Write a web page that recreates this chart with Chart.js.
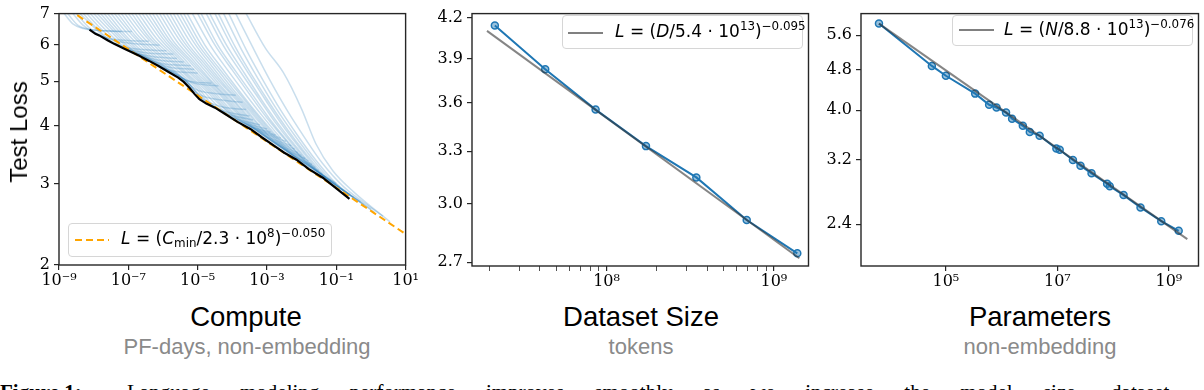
<!DOCTYPE html>
<html>
<head>
<meta charset="utf-8">
<script src="https://cdn.jsdelivr.net/npm/chart.js@4.4.0/dist/chart.umd.min.js"></script>
<style>
  body { margin: 0; width: 1204px; height: 390px; overflow: hidden; background: #fff; position: relative; font-family: 'Liberation Sans', Arial, sans-serif; }
  .panel { position: absolute; top: 0; }
  .ttl { position: absolute; font-size: 27.5px; color: #000; white-space: nowrap; transform: translateX(-50%); }
  .sub { position: absolute; font-size: 22px; color: #8a8a8a; white-space: nowrap; transform: translateX(-50%); }
  .ylab { position: absolute; font-size: 24px; color: #000; white-space: nowrap; transform: translate(-50%, -50%) rotate(-90deg); }
  .leg { position: absolute; box-sizing: border-box; border: 1px solid #d6d6d6; border-radius: 4px; background: rgba(255,255,255,0.85); }
  .leg svg { position: absolute; left: 0; top: 0; }
  .lt { position: absolute; font-family: 'DejaVu Sans', sans-serif; font-size: 17px; color: #000; white-space: nowrap; }
  .lt sup { font-size: 0.7em; vertical-align: 0.55em; line-height: 0; }
  .lt sub { font-size: 0.7em; vertical-align: -0.25em; line-height: 0; }
  .caption { position: absolute; left: 0; top: 380px; font-family: 'Liberation Serif', serif; font-size: 21px; color: #000; white-space: nowrap; }
  .caption span { position: absolute; left: 127px; top: 0; word-spacing: 25px; }
</style>
</head>
<body>

<div class="panel" style="left:0px"><canvas id="computeChart" width="420" height="300"></canvas></div>
<div class="panel" style="left:420px"><canvas id="datasetChart" width="394" height="300"></canvas></div>
<div class="panel" style="left:814px"><canvas id="paramsChart" width="390" height="300"></canvas></div>

<div class="ylab" style="left:19px;top:132px">Test Loss</div>

<div class="ttl" style="left:246px;top:301px">Compute</div>
<div class="sub" style="left:247px;top:334px">PF-days, non-embedding</div>
<div class="ttl" style="left:641px;top:301px">Dataset Size</div>
<div class="sub" style="left:641px;top:334px">tokens</div>
<div class="ttl" style="left:1040px;top:301px">Parameters</div>
<div class="sub" style="left:1040px;top:334px">non-embedding</div>

<div class="leg" style="left:68px;top:223px;width:264px;height:34px">
  <svg width="44" height="34"><line x1="6" y1="16" x2="40" y2="16" stroke="#ffa500" stroke-width="2" stroke-dasharray="7,4"/></svg>
  <span class="lt" style="left:52px;top:4px"><i>L</i> = (<i>C</i><sub>min</sub>/2.3 · 10<sup>8</sup>)<sup>−0.050</sup></span>
</div>
<div class="leg" style="left:562px;top:15px;width:241px;height:34px">
  <svg width="44" height="34"><line x1="5" y1="17" x2="40" y2="17" stroke="#808080" stroke-width="2"/></svg>
  <span class="lt" style="left:52px;top:5px"><i>L</i> = (<i>D</i>/5.4 · 10<sup>13</sup>)<sup>−0.095</sup></span>
</div>
<div class="leg" style="left:952px;top:15px;width:241px;height:31px">
  <svg width="44" height="31"><line x1="6" y1="14" x2="41" y2="14" stroke="#808080" stroke-width="2"/></svg>
  <span class="lt" style="left:51px;top:3px"><i>L</i> = (<i>N</i>/8.8 · 10<sup>13</sup>)<sup>−0.076</sup></span>
</div>

<div class="caption"><b>Figure 1:</b><span>Language modeling performance improves smoothly as we increase the model size, dataset</span></div>

<script>
// 1. Compute panel data (x stored as log10 of PF-days)
const computeTicks = [1e-9, 1e-7, 1e-5, 1e-3, 1e-1, 1e1];
const computeLossTicks = [2, 3, 4, 5, 6, 7];
const trainingRuns = [
  [[-8.85, 7.0], [-8.6, 6.65], [-8.3, 6.5], [-7.9, 6.44], [-7.2, 6.4]],
  [[-8.75, 7.0], [-8.45, 6.6], [-8.1, 6.47], [-7.5, 6.42], [-6.9, 6.4]],
  [[-8.6, 7.0], [-8.3, 6.6], [-8.0, 6.38], [-7.6, 6.2], [-7.0, 6.12], [-6.4, 6.1]],
  [[-8.5, 7.0], [-8.15, 6.55], [-7.85, 6.3], [-7.4, 6.12], [-6.8, 6.02], [-6.1, 5.98]],
  [[-8.4, 7.0], [-8.0, 6.55], [-7.6, 6.15], [-7.2, 5.95], [-6.6, 5.85], [-5.9, 5.82]],
  [[-8.3, 7.0], [-7.9, 6.5], [-7.5, 6.1], [-7.05, 5.88], [-6.5, 5.76], [-5.7, 5.72]],
  [[-8.2, 7.0], [-7.8, 6.5], [-7.3, 6.02], [-6.9, 5.8], [-6.3, 5.65], [-5.6, 5.6]],
  [[-8.1, 7.0], [-7.65, 6.45], [-7.2, 6.0], [-6.75, 5.74], [-6.2, 5.56], [-5.4, 5.5]],
  [[-8.0, 7.0], [-7.5, 6.4], [-7.0, 5.9], [-6.6, 5.66], [-6.0, 5.45], [-5.2, 5.4]],
  [[-7.9, 7.0], [-7.4, 6.38], [-6.9, 5.86], [-6.45, 5.6], [-5.9, 5.38], [-5.1, 5.3]],
  [[-7.8, 7.0], [-7.3, 6.35], [-6.8, 5.85], [-6.3, 5.5], [-5.8, 5.28], [-5.0, 5.2]],
  [[-7.7, 7.0], [-7.2, 6.33], [-6.7, 5.82], [-6.2, 5.46], [-5.7, 5.2], [-5.25, 5.0], [-4.6, 4.95]],
  [[-7.6, 7.0], [-7.1, 6.3], [-6.6, 5.8], [-6.1, 5.42], [-5.6, 5.15], [-5.1, 4.95], [-4.4, 4.88]],
  [[-7.5, 7.0], [-7.0, 6.3], [-6.5, 5.79], [-6.0, 5.39], [-5.5, 5.1], [-5.05, 4.8], [-4.5, 4.7], [-3.9, 4.66]],
  [[-7.4, 7.0], [-6.9, 6.3], [-6.4, 5.78], [-5.9, 5.35], [-5.4, 5.05], [-5.0, 4.7], [-4.3, 4.55], [-3.7, 4.5]],
  [[-7.3, 7.0], [-6.8, 6.27], [-6.3, 5.76], [-5.8, 5.33], [-5.3, 4.98], [-4.9, 4.6], [-4.3, 4.4], [-3.6, 4.34]],
  [[-7.2, 7.0], [-6.7, 6.25], [-6.2, 5.75], [-5.7, 5.3], [-5.2, 4.9], [-4.8, 4.52], [-4.2, 4.3], [-3.5, 4.2]],
  [[-7.1, 7.0], [-6.6, 6.25], [-6.1, 5.73], [-5.6, 5.29], [-5.1, 4.88], [-4.7, 4.5], [-4.1, 4.24], [-3.4, 4.12]],
  [[-7.0, 7.0], [-6.5, 6.25], [-6.0, 5.72], [-5.5, 5.28], [-5.0, 4.85], [-4.6, 4.47], [-4.0, 4.18], [-3.2, 4.02]],
  [[-6.9, 7.0], [-6.4, 6.22], [-5.9, 5.71], [-5.4, 5.24], [-4.9, 4.82], [-4.45, 4.44], [-3.85, 4.12], [-3.0, 3.94]],
  [[-6.8, 7.0], [-6.3, 6.2], [-5.8, 5.7], [-5.3, 5.2], [-4.8, 4.8], [-4.3, 4.4], [-3.7, 4.06], [-2.9, 3.88]],
  [[-6.7, 7.0], [-6.2, 6.2], [-5.7, 5.68], [-5.2, 5.18], [-4.7, 4.78], [-4.2, 4.36], [-3.6, 4.03], [-2.75, 3.82]],
  [[-6.6, 7.0], [-6.1, 6.2], [-5.6, 5.65], [-5.1, 5.15], [-4.6, 4.75], [-4.1, 4.33], [-3.5, 3.99], [-2.6, 3.76]],
  [[-6.5, 7.0], [-6.0, 6.18], [-5.5, 5.62], [-5.0, 5.12], [-4.5, 4.72], [-4.0, 4.3], [-3.4, 3.95], [-2.45, 3.7]],
  [[-6.4, 7.0], [-5.9, 6.15], [-5.4, 5.6], [-4.9, 5.1], [-4.4, 4.7], [-3.9, 4.28], [-3.3, 3.9], [-2.3, 3.62]],
  [[-6.3, 7.0], [-5.8, 6.12], [-5.3, 5.58], [-4.8, 5.08], [-4.3, 4.66], [-3.8, 4.24], [-3.2, 3.86], [-2.2, 3.56]],
  [[-6.2, 7.0], [-5.7, 6.1], [-5.2, 5.55], [-4.7, 5.05], [-4.2, 4.62], [-3.7, 4.2], [-3.1, 3.81], [-2.1, 3.5]],
  [[-6.1, 7.0], [-5.6, 6.1], [-5.1, 5.52], [-4.6, 5.0], [-4.1, 4.58], [-3.6, 4.16], [-3.0, 3.77], [-2.0, 3.45]],
  [[-6.0, 7.0], [-5.5, 6.1], [-5.0, 5.5], [-4.5, 4.98], [-4.0, 4.55], [-3.5, 4.12], [-2.9, 3.72], [-1.9, 3.4]],
  [[-5.9, 7.0], [-5.4, 6.08], [-4.9, 5.48], [-4.4, 4.95], [-3.9, 4.5], [-3.4, 4.08], [-2.8, 3.68], [-1.8, 3.36]],
  [[-5.8, 7.0], [-5.3, 6.05], [-4.8, 5.45], [-4.3, 4.92], [-3.8, 4.48], [-3.3, 4.05], [-2.7, 3.64], [-1.7, 3.3]],
  [[-5.7, 7.0], [-5.2, 6.05], [-4.7, 5.42], [-4.2, 4.88], [-3.7, 4.44], [-3.2, 4.0], [-2.6, 3.6], [-1.6, 3.25]],
  [[-5.6, 7.0], [-5.1, 6.05], [-4.6, 5.4], [-4.1, 4.85], [-3.6, 4.4], [-3.1, 3.98], [-2.5, 3.56], [-1.5, 3.2]],
  [[-5.5, 7.0], [-5.0, 6.02], [-4.5, 5.38], [-4.0, 4.82], [-3.5, 4.36], [-3.0, 3.94], [-2.4, 3.52], [-1.4, 3.15]],
  [[-5.4, 7.0], [-4.9, 6.0], [-4.4, 5.35], [-3.9, 4.8], [-3.4, 4.32], [-2.9, 3.9], [-2.3, 3.48], [-1.3, 3.1]],
  [[-5.3, 7.0], [-4.8, 6.0], [-4.3, 5.33], [-3.8, 4.76], [-3.3, 4.27], [-2.8, 3.86], [-2.2, 3.45], [-1.15, 3.04]],
  [[-5.15, 7.0], [-4.65, 6.0], [-4.15, 5.3], [-3.65, 4.72], [-3.15, 4.22], [-2.65, 3.8], [-2.05, 3.4], [-1.0, 3.0]],
  [[-5.0, 7.0], [-4.5, 5.98], [-4.0, 5.28], [-3.5, 4.68], [-3.0, 4.16], [-2.5, 3.75], [-1.9, 3.35], [-0.9, 2.95]],
  [[-4.9, 7.0], [-4.4, 5.95], [-3.9, 5.25], [-3.4, 4.65], [-2.9, 4.12], [-2.4, 3.7], [-1.8, 3.3], [-0.8, 2.9]],
  [[-4.75, 7.0], [-4.25, 5.95], [-3.75, 5.22], [-3.25, 4.6], [-2.75, 4.06], [-2.25, 3.64], [-1.65, 3.24], [-0.6, 2.84]],
  [[-4.65, 7.0], [-4.15, 5.95], [-3.65, 5.2], [-3.15, 4.55], [-2.65, 4.02], [-2.15, 3.6], [-1.55, 3.2], [-0.5, 2.8]],
  [[-4.5, 7.0], [-4.0, 5.92], [-3.5, 5.15], [-3.0, 4.5], [-2.5, 3.96], [-2.0, 3.54], [-1.4, 3.13], [-0.3, 2.74]],
  [[-4.4, 7.0], [-3.9, 5.9], [-3.4, 5.1], [-2.9, 4.45], [-2.4, 3.92], [-1.9, 3.5], [-1.3, 3.1], [-0.2, 2.7]],
  [[-4.25, 7.0], [-3.75, 5.88], [-3.25, 5.05], [-2.75, 4.38], [-2.25, 3.86], [-1.75, 3.44], [-1.15, 3.05], [0.0, 2.64]],
  [[-4.1, 7.0], [-3.6, 5.85], [-3.1, 5.0], [-2.6, 4.32], [-2.1, 3.8], [-1.6, 3.38], [-1.0, 3.0], [0.1, 2.6]],
  [[-3.9, 7.0], [-3.4, 5.9], [-2.9, 5.0], [-2.4, 4.3], [-1.9, 3.76], [-1.4, 3.32], [-0.8, 2.96], [0.35, 2.55]],
  [[-3.6, 7.0], [-3.05, 5.9], [-2.53, 5.22], [-2.0, 4.35], [-1.59, 3.66], [-1.1, 3.2], [-0.5, 2.88], [0.55, 2.48]]
];
const frontierExp = [-8.12, -7.95, -7.84, -7.6, -7.41, -7.1, -6.7, -6.4, -6.13, -5.85, -5.56, -5.4, -5.23, -5.08, -4.95,
  -4.75, -4.5, -4.24, -3.85, -3.48, -3.15, -2.81, -2.5, -2.15, -1.8, -1.39, -1.0, -0.62];
const frontierLoss = [6.46, 6.33, 6.28, 6.13, 6.02, 5.87, 5.68, 5.53, 5.39, 5.24, 5.09, 4.98, 4.83, 4.68, 4.57,
  4.47, 4.38, 4.26, 4.08, 3.94, 3.78, 3.63, 3.50, 3.38, 3.23, 3.09, 2.93, 2.78];
const computeFitExp = [-9, 1];
const computeFitLoss = [7.38, 2.334];

// 2. Dataset size panel data
const tokens = [2.15e7, 4.3e7, 8.6e7, 1.72e8, 3.44e8, 6.88e8, 1.38e9];
const tokenLoss = [4.14, 3.825, 3.557, 3.33, 3.147, 2.914, 2.744];
const tokenFit = [1.93e7, 1.42e9];
const tokenFitLoss = [4.10, 2.72];
const tokenTicks = [2e7, 3e7, 4e7, 5e7, 6e7, 7e7, 8e7, 9e7, 1e8, 2e8, 3e8, 4e8, 5e8, 6e8, 7e8, 8e8, 9e8, 1e9];
const tokenLossTicks = [2.7, 3.0, 3.3, 3.6, 3.9, 4.2];

// 3. Parameters panel data
const params = [6.3e3, 5.6e4, 1.0e5, 3.35e5, 5.97e5, 8.1e5, 1.2e6, 1.54e6, 2.4e6, 3.2e6, 4.8e6,
  9.6e6, 1.1e7, 1.9e7, 2.6e7, 4.1e7, 7.8e7, 8.7e7, 1.54e8, 3.1e8, 7.3e8, 1.5e9];
const paramLoss = [5.9, 4.88, 4.67, 4.31, 4.10, 4.05, 3.96, 3.85, 3.73, 3.63, 3.57,
  3.37, 3.35, 3.20, 3.12, 3.015, 2.877, 2.845, 2.735, 2.588, 2.433, 2.33];
const paramFit = [6.3e3, 2.14e9];
const paramFitLoss = [5.90, 2.245];
const paramTicks = [1e5, 1e7, 1e9];
const paramLossTicks = [2.4, 3.2, 4.0, 4.8, 5.6];

const SUP = { '-': '⁻', '0': '⁰', '1': '¹', '2': '²', '3': '³', '4': '⁴', '5': '⁵', '6': '⁶', '7': '⁷', '8': '⁸', '9': '⁹' };
function powerLabel(v) {
  const e = Math.log10(v);
  if (Math.abs(e - Math.round(e)) > 1e-6) return '';
  return '10' + String(Math.round(e)).split('').map(c => SUP[c]).join('');
}
const toPoints = (xs, ys) => xs.map((x, i) => ({ x: x, y: ys[i] }));
const fromExp = (es, ys) => es.map((e, i) => ({ x: Math.pow(10, e), y: ys[i] }));

// draws the box around the plot area
const framePlugin = {
  id: 'frame',
  afterDraw(chart) {
    const { ctx, chartArea: a } = chart;
    ctx.save();
    ctx.strokeStyle = '#262626';
    ctx.lineWidth = 1.4;
    ctx.strokeRect(a.left, a.top, a.right - a.left, a.bottom - a.top);
    ctx.restore();
  }
};

const tickFont = { family: "'DejaVu Serif', serif", size: 16 };

function makePanel(id, box, xCfg, yCfg, datasets) {
  new Chart(document.getElementById(id), {
    type: 'line',
    data: { datasets: datasets },
    plugins: [framePlugin],
    options: {
      responsive: false,
      animation: false,
      devicePixelRatio: 1,
      layout: { padding: { top: box.top, right: box.right, left: 0, bottom: 0 } },
      plugins: { legend: { display: false }, tooltip: { enabled: false } },
      scales: {
        x: {
          type: 'logarithmic', min: xCfg.min, max: xCfg.max,
          border: { display: false },
          grid: { drawOnChartArea: false, tickLength: 5, color: '#262626',
                  lineWidth: c => (c.tick && powerLabel(c.tick.value) ? 1.2 : 0.8) },
          ticks: { font: tickFont, color: '#000', padding: 1, maxRotation: 0, autoSkip: false,
                   callback: v => powerLabel(v) },
          afterBuildTicks: s => { s.ticks = xCfg.ticks.map(v => ({ value: v })); },
          afterFit: s => { s.height = box.xh; }
        },
        y: {
          type: 'logarithmic', min: yCfg.min, max: yCfg.max,
          border: { display: false },
          grid: { drawOnChartArea: false, tickLength: 5, color: '#262626', lineWidth: 1.2 },
          ticks: { font: tickFont, color: '#000', padding: 4, autoSkip: false,
                   callback: v => yCfg.fmt(v) },
          afterBuildTicks: s => { s.ticks = yCfg.ticks.map(v => ({ value: v })); },
          afterFit: s => { s.width = box.yw; }
        }
      }
    }
  });
}

// 4. Compute panel
const computeSets = [
  { data: fromExp(frontierExp, frontierLoss), borderColor: '#000', borderWidth: 2.2, pointRadius: 0, clip: 0 },
  { data: fromExp(computeFitExp, computeFitLoss), borderColor: '#ffa500', borderWidth: 2, borderDash: [7, 4], pointRadius: 0, clip: 0 }
];
trainingRuns.forEach(run => {
  computeSets.push({
    data: run.map(p => ({ x: Math.pow(10, p[0]), y: p[1] })),
    borderColor: 'rgba(31,119,180,0.24)', borderWidth: 1.5, pointRadius: 0,
    cubicInterpolationMode: 'monotone', clip: 0
  });
});
makePanel('computeChart', { top: 6, right: 9, yw: 59, xh: 35 },
  { min: 1e-9, max: 10, ticks: computeTicks },
  { min: 2, max: 7, ticks: computeLossTicks, fmt: v => String(v) },
  computeSets);

// 5. Dataset size panel
makePanel('datasetChart', { top: 9, right: 5, yw: 52, xh: 34 },
  { min: 1.57e7, max: 1.61e9, ticks: tokenTicks },
  { min: 2.682, max: 4.23, ticks: tokenLossTicks, fmt: v => v.toFixed(1) },
  [
    { data: toPoints(tokenFit, tokenFitLoss), borderColor: 'rgba(51,51,51,0.6)', borderWidth: 2, pointRadius: 0, clip: 0 },
    { data: toPoints(tokens, tokenLoss), borderColor: '#1f77b4', borderWidth: 2,
      pointRadius: 3.5, pointBorderWidth: 1.5, pointBorderColor: '#1f77b4', pointBackgroundColor: 'rgba(31,119,180,0.45)', clip: 0 }
  ]);

// 6. Parameters panel
makePanel('paramsChart', { top: 7, right: 5, yw: 47, xh: 34 },
  { min: 3.0e3, max: 3.4e9, ticks: paramTicks },
  { min: 1.99, max: 6.17, ticks: paramLossTicks, fmt: v => v.toFixed(1) },
  [
    { data: toPoints(paramFit, paramFitLoss), borderColor: 'rgba(51,51,51,0.6)', borderWidth: 2, pointRadius: 0, clip: 0 },
    { data: toPoints(params, paramLoss), borderColor: '#1f77b4', borderWidth: 2,
      pointRadius: 3.5, pointBorderWidth: 1.5, pointBorderColor: '#1f77b4', pointBackgroundColor: 'rgba(31,119,180,0.45)', clip: 0 }
  ]);
</script>
</body>
</html>
